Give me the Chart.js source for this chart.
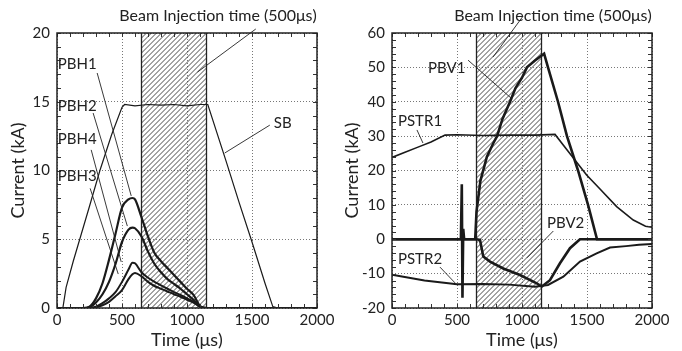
<!DOCTYPE html>
<html>
<head>
<meta charset="utf-8">
<script src="https://cdn.jsdelivr.net/npm/chart.js@4/dist/chart.umd.min.js"></script>
<style>
  html, body { margin: 0; padding: 0; background: #fff; }
  #wrap { position: relative; width: 682px; height: 351px; }
  canvas { position: absolute; top: 0; }
  #left { left: 0; }
  #right { left: 341px; }
</style>
</head>
<body>
<div id="wrap">
  <canvas id="left" width="341" height="351"></canvas>
  <canvas id="right" width="341" height="351"></canvas>
</div>
<script>
// tick labels
const xTicks = [0, 500, 1000, 1500, 2000];
const yTicksLeft = [0, 5, 10, 15, 20];
const yTicksRight = [-20, -10, 0, 10, 20, 30, 40, 50, 60];

// beam injection window (us)
const injFrom = 650;
const injTo = 1150;

// left panel: SB and PBH1..4 (kA)
const sbTime = [0, 45, 70, 125, 175, 250, 330, 420, 500, 520, 600, 700, 800, 900, 1000, 1100, 1160, 1300, 1400, 1500, 1600, 1660, 1700, 2000];
const sbCur  = [0, 0, 1.5, 3.4, 5.0, 7.4, 10.0, 12.6, 14.6, 14.8, 14.7, 14.8, 14.75, 14.8, 14.7, 14.8, 14.8, 10.7, 7.7, 4.8, 1.8, 0.1, 0, 0];

const pbhTime = [0, 200, 250, 300, 350, 400, 450, 500, 550, 580, 600, 650, 700, 750, 800, 850, 900, 950, 1000, 1050, 1100, 1150, 2000];
const pbh1 = [0, 0, 0.1, 0.7, 1.8, 3.5, 5.4, 7.3, 7.9, 8.0, 7.9, 6.6, 5.2, 4.0, 3.4, 2.9, 2.4, 1.9, 1.4, 0.95, 0.15, 0, 0];
const pbh2 = [0, 0, 0.05, 0.4, 1.0, 1.9, 3.2, 4.8, 5.7, 5.85, 5.8, 5.2, 4.1, 3.2, 2.6, 2.1, 1.75, 1.4, 1.0, 0.6, 0.1, 0, 0];
const pbh4 = [0, 0, 0, 0.1, 0.35, 0.7, 1.15, 1.9, 2.8, 3.3, 3.25, 2.6, 2.2, 1.9, 1.65, 1.4, 1.15, 0.95, 0.7, 0.45, 0.1, 0, 0];
const pbh3 = [0, 0, 0, 0.05, 0.2, 0.45, 0.85, 1.3, 2.1, 2.45, 2.55, 2.3, 1.9, 1.6, 1.4, 1.2, 1.0, 0.82, 0.6, 0.4, 0.1, 0, 0];

// right panel: PSTR1/2 and PBV1/2 (kA)
const pstr1Time = [0, 100, 200, 300, 408, 500, 700, 900, 1100, 1254, 1350, 1497, 1600, 1728, 1856, 1950, 2000];
const pstr1 = [23.8, 25.3, 26.8, 28.3, 30.3, 30.4, 30.2, 30.3, 30.3, 30.5, 25.8, 18.7, 14.6, 9.5, 5.6, 3.8, 3.5];

const pstr2Time = [0, 250, 500, 700, 900, 1100, 1200, 1318, 1446, 1574, 1677, 1800, 1900, 2000];
const pstr2 = [-10.3, -12, -13.1, -13, -13.2, -13.8, -13.3, -10.9, -6.5, -4.1, -2.4, -2.0, -1.6, -1.4];

const pbv1Time = [0, 640, 650, 680, 730, 780, 808, 850, 908, 950, 1000, 1038, 1100, 1170, 1200, 1277, 1346, 1431, 1508, 1577, 2000];
const pbv1 = [0, 0, 8, 17, 24, 28, 30, 35, 40, 44, 47, 50, 52, 54, 50, 40, 30, 20, 10, 0, 0];

const pbv2Time = [0, 530, 537, 542, 548, 555, 650, 677, 702, 754, 856, 985, 1113, 1151, 1215, 1292, 1369, 1446, 2000];
const pbv2 = [0, 0, 16, -17, 3, 0, 0, -0.2, -5, -6.5, -8.5, -10.4, -12.8, -13.8, -11.9, -7, -2.6, 0, 0];

const FONT = "Lato, 'Open Sans', sans-serif";
Chart.defaults.font.family = FONT;
Chart.defaults.font.size = 15;
Chart.defaults.color = "#222";

function pts(xs, ys) {
  return xs.map((x, i) => ({ x: x, y: ys[i] }));
}

function serie(xs, ys, width, smooth) {
  return {
    data: pts(xs, ys),
    borderColor: "#1a1a1a",
    borderWidth: width,
    pointRadius: 0,
    fill: false,
    cubicInterpolationMode: smooth ? "monotone" : "default",
    tension: 0,
  };
}

// hatched injection window, frame and inward ticks, labels with leader lines
const decorPlugin = {
  id: "decor",
  beforeDatasetsDraw(chart, args, o) {
    const { ctx, chartArea: a, scales: { x } } = chart;
    const x0 = x.getPixelForValue(o.from);
    const x1 = x.getPixelForValue(o.to);
    const h = a.bottom - a.top;
    ctx.save();
    ctx.beginPath();
    ctx.rect(x0, a.top, x1 - x0, h);
    ctx.clip();
    ctx.strokeStyle = "#333";
    ctx.lineWidth = 0.9;
    ctx.beginPath();
    for (let s = x0 - h; s < x1; s += 5) {
      ctx.moveTo(s, a.bottom);
      ctx.lineTo(s + h, a.top);
    }
    ctx.stroke();
    ctx.restore();
    ctx.save();
    ctx.strokeStyle = "#222";
    ctx.lineWidth = 1.3;
    ctx.beginPath();
    ctx.moveTo(x0, a.top); ctx.lineTo(x0, a.bottom);
    ctx.moveTo(x1, a.top); ctx.lineTo(x1, a.bottom);
    ctx.stroke();
    ctx.restore();
  },
  afterDraw(chart, args, o) {
    const { ctx, chartArea: a, scales: { x, y } } = chart;
    ctx.save();
    ctx.strokeStyle = "#333";
    ctx.lineWidth = 1;
    ctx.beginPath();
    for (let t = x.min; t <= x.max; t += o.minorX) {
      const px = Math.round(x.getPixelForValue(t)) + 0.5;
      ctx.moveTo(px, a.bottom); ctx.lineTo(px, a.bottom - 4);
      ctx.moveTo(px, a.top); ctx.lineTo(px, a.top + 4);
    }
    for (let v = y.min; v <= y.max; v += o.minorY) {
      const py = Math.round(y.getPixelForValue(v)) + 0.5;
      ctx.moveTo(a.left, py); ctx.lineTo(a.left + 4, py);
      ctx.moveTo(a.right, py); ctx.lineTo(a.right - 4, py);
    }
    ctx.stroke();
    ctx.lineWidth = 1.5;
    ctx.strokeStyle = "#222";
    ctx.strokeRect(a.left, a.top, a.right - a.left, a.bottom - a.top);

    ctx.lineWidth = 0.9;
    ctx.strokeStyle = "#222";
    ctx.beginPath();
    o.leaders.forEach(l => {
      ctx.moveTo(x.getPixelForValue(l[0]), y.getPixelForValue(l[1]));
      ctx.lineTo(x.getPixelForValue(l[2]), y.getPixelForValue(l[3]));
    });
    ctx.stroke();

    ctx.fillStyle = "#222";
    ctx.textBaseline = "middle";
    o.labels.forEach(l => {
      ctx.font = (l.size || 15) + "px " + FONT;
      ctx.textAlign = l.align || "left";
      ctx.fillText(l.text, x.getPixelForValue(l.t), y.getPixelForValue(l.v));
    });
    ctx.restore();
  },
};

function makeChart(id, datasets, yMin, yMax, yTicks, yWidth, titlePad, minorY, labels, leaders) {
  return new Chart(document.getElementById(id), {
    type: "line",
    data: { datasets: datasets },
    options: {
      responsive: false,
      animation: false,
      layout: { padding: { top: 33, right: 341 - 260 - yWidth, left: 0, bottom: 0 } },
      plugins: {
        legend: { display: false },
        tooltip: { enabled: false },
        decor: { from: injFrom, to: injTo, minorX: 100, minorY: minorY, labels: labels, leaders: leaders },
      },
      scales: {
        x: {
          type: "linear",
          min: 0,
          max: 2000,
          afterBuildTicks: s => { s.ticks = xTicks.map(v => ({ value: v })); },
          afterFit: s => { s.height = 43; },
          ticks: { padding: 3, maxRotation: 0, color: "#222", callback: v => String(v) },
          grid: { color: "#777", drawTicks: false },
          border: { display: false, dash: [1, 2] },
          title: { display: true, text: "Time (μs)", font: { size: 18 }, padding: { top: 0, bottom: 0 }, color: "#222" },
        },
        y: {
          type: "linear",
          min: yMin,
          max: yMax,
          afterBuildTicks: s => { s.ticks = yTicks.map(v => ({ value: v })); },
          afterFit: s => { s.width = yWidth; },
          ticks: { padding: 7, color: "#222", callback: v => String(v) },
          grid: { color: "#777", drawTicks: false },
          border: { display: false, dash: [1, 2] },
          title: { display: true, text: "Current (kA)", font: { size: 18 }, padding: { top: titlePad, bottom: 0 }, color: "#222" },
        },
      },
    },
    plugins: [decorPlugin],
  });
}

makeChart("left", [
  serie(sbTime, sbCur, 1.2, false),
  serie(pbhTime, pbh1, 2.2, true),
  serie(pbhTime, pbh2, 2.2, true),
  serie(pbhTime, pbh4, 2, true),
  serie(pbhTime, pbh3, 2, true),
], 0, 20, yTicksLeft, 57, 7, 1, [
  { text: "Beam Injection time (500μs)", t: 1239, v: 21.24, align: "center", size: 16 },
  { text: "PBH1", t: 6, v: 17.75 },
  { text: "PBH2", t: 6, v: 14.7 },
  { text: "PBH4", t: 6, v: 12.3 },
  { text: "PBH3", t: 6, v: 9.6 },
  { text: "SB", t: 1668, v: 13.45 },
], [
  [1529, 20.29, 1081, 17.16],
  [309, 17.09, 571, 8.15],
  [278, 14.18, 541, 5.96],
  [263, 11.5, 494, 3.35],
  [255, 8.7, 471, 2.47],
  [1637, 13.3, 1290, 11.27],
]);

makeChart("right", [
  serie(pstr1Time, pstr1, 1.6, false),
  serie(pstr2Time, pstr2, 2, false),
  serie(pbv1Time, pbv1, 2.6, false),
  serie(pbv2Time, pbv2, 2.6, false),
], -20, 60, yTicksRight, 51, 0, 2, [
  { text: "Beam Injection time (500μs)", t: 1238, v: 64.9, align: "center", size: 16 },
  { text: "PBV1", t: 277, v: 49.8 },
  { text: "PSTR1", t: 46, v: 34.3 },
  { text: "PBV2", t: 1192, v: 4.8 },
  { text: "PSTR2", t: 46, v: -5.8 },
], [
  [1008, 64.9, 777, 53.0],
  [585, 52.1, 915, 41.1],
  [192, 31.8, 238, 28.0],
  [1241, 2.4, 1038, -5.4],
  [369, -8.1, 485, -12.7],
]);
</script>
</body>
</html>
